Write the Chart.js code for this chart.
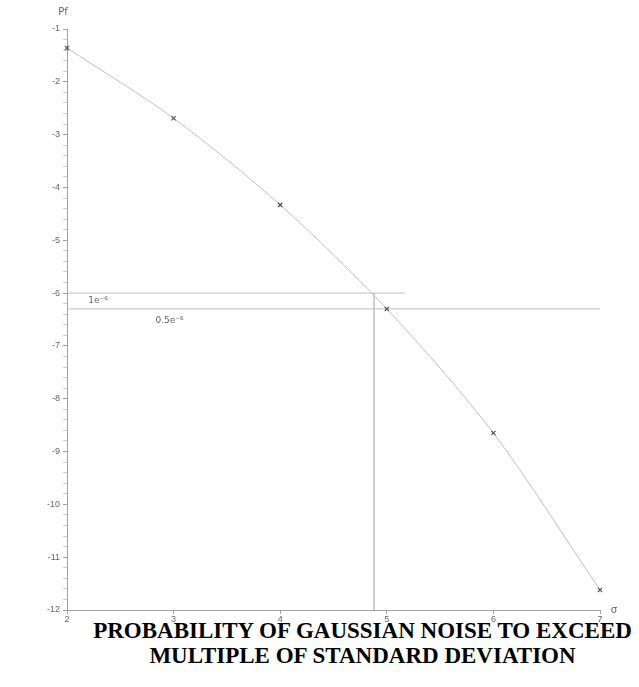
<!DOCTYPE html>
<html>
<head>
<meta charset="utf-8">
<script src="https://cdn.jsdelivr.net/npm/chart.js@4/dist/chart.umd.min.js"></script>
<style>
  body { margin: 0; background: #fff; }
  #wrap { position: relative; width: 639px; height: 622px; }
  #caption {
    font-family: "Liberation Serif", "Times New Roman", serif;
    font-weight: bold;
    font-size: 23px;
    line-height: 25px;
    text-align: center;
    color: #000;
    margin-left: 86px;
    width: 553px;
    margin-top: -4px;
    white-space: nowrap;
  }
</style>
</head>
<body>
<div id="wrap"><canvas id="pfChart"></canvas></div>
<div id="caption">PROBABILITY OF GAUSSIAN NOISE TO EXCEED<br>MULTIPLE OF STANDARD DEVIATION</div>
<script>
// sigma multiples and log10 of the probability to exceed them
var sigmaValues = [2, 3, 4, 5, 6, 7];
var logPf = [-1.36, -2.69, -4.33, -6.30, -8.65, -11.62];

// reference lines
var levelOne = -6;          // 1e-6
var levelHalf = -6.3;       // 0.5e-6
var levelOneEnd = 5.17;
var crossSigma = 4.88;

var xTicks = [2, 3, 4, 5, 6, 7];
var yMin = -12, yMax = -1;

var lineGrey = "rgb(190,190,190)";
var axisGrey = "rgb(160,160,160)";
var textGrey = "rgb(100,100,100)";

function toPoints(xs, ys) {
    var pts = [];
    for (var i = 0; i < xs.length; i++) {
        pts.push({ x: xs[i], y: ys[i] });
    }
    return pts;
}

function isWhole(v) {
    return Math.abs(v - Math.round(v)) < 1e-6;
}

var labelsPlugin = {
    id: "labels",
    afterDraw: function (chart) {
        var ctx = chart.ctx;
        var xs = chart.scales.x, ys = chart.scales.y;
        ctx.save();
        ctx.fillStyle = textGrey;
        ctx.font = "9px 'DejaVu Sans', sans-serif";
        ctx.textBaseline = "middle";
        ctx.textAlign = "left";
        ctx.fillText("1e\u207B\u2076", xs.getPixelForValue(2.2), ys.getPixelForValue(-6.15));
        ctx.fillText("0.5e\u207B\u2076", xs.getPixelForValue(2.83), ys.getPixelForValue(-6.52));
        ctx.font = "10px 'DejaVu Sans', sans-serif";
        ctx.textAlign = "center";
        ctx.fillText("Pf", xs.getPixelForValue(2) - 4, ys.getPixelForValue(yMax) - 17);
        ctx.fillText("\u03C3", xs.getPixelForValue(7) + 14, ys.getPixelForValue(yMin));
        ctx.restore();
    }
};

var ctx = document.getElementById("pfChart").getContext("2d");

var chart = new Chart(ctx, {
    type: "scatter",
    data: {
        datasets: [
            {
                data: toPoints(sigmaValues, logPf),
                showLine: true,
                clip: false,
                tension: 0.3,
                borderColor: lineGrey,
                borderWidth: 1,
                pointStyle: "crossRot",
                pointRadius: 3,
                pointBorderColor: "rgb(80,80,80)",
                pointBorderWidth: 1.2
            },
            {
                data: toPoints([2, levelOneEnd], [levelOne, levelOne]),
                showLine: true,
                borderColor: lineGrey,
                borderWidth: 1,
                pointRadius: 0
            },
            {
                data: toPoints([2, 7], [levelHalf, levelHalf]),
                showLine: true,
                borderColor: lineGrey,
                borderWidth: 1,
                pointRadius: 0
            },
            {
                data: toPoints([crossSigma, crossSigma], [levelOne, yMin]),
                showLine: true,
                borderColor: "rgb(200,200,200)",
                borderWidth: 1,
                pointRadius: 0
            }
        ]
    },
    options: {
        responsive: true,
        maintainAspectRatio: false,
        animation: false,
        layout: { padding: { left: 0, right: 39, top: 29, bottom: 0 } },
        plugins: {
            legend: { display: false },
            tooltip: { enabled: false }
        },
        scales: {
            x: {
                type: "linear",
                min: 2,
                max: 7,
                afterBuildTicks: function (scale) {
                    scale.ticks = xTicks.map(function (v) { return { value: v }; });
                },
                afterFit: function (scale) { scale.height = 12; },
                grid: {
                    drawOnChartArea: false,
                    tickLength: 4,
                    tickColor: axisGrey
                },
                border: { color: axisGrey, width: 1 },
                ticks: {
                    color: textGrey,
                    padding: 0,
                    font: { size: 9 },
                    maxRotation: 0
                }
            },
            y: {
                type: "linear",
                min: yMin,
                max: yMax,
                afterFit: function (scale) { scale.width = 67; },
                grid: {
                    drawOnChartArea: false,
                    tickLength: 4,
                    tickColor: function (c) {
                        return isWhole(c.tick.value) ? axisGrey : "rgb(205,205,205)";
                    }
                },
                border: { color: axisGrey, width: 1 },
                ticks: {
                    stepSize: 0.2,
                    autoSkip: false,
                    color: textGrey,
                    padding: 3,
                    font: { size: 9 },
                    callback: function (v) {
                        return isWhole(v) ? String(Math.round(v)) : "";
                    }
                }
            }
        }
    },
    plugins: [labelsPlugin]
});
</script>
</body>
</html>
